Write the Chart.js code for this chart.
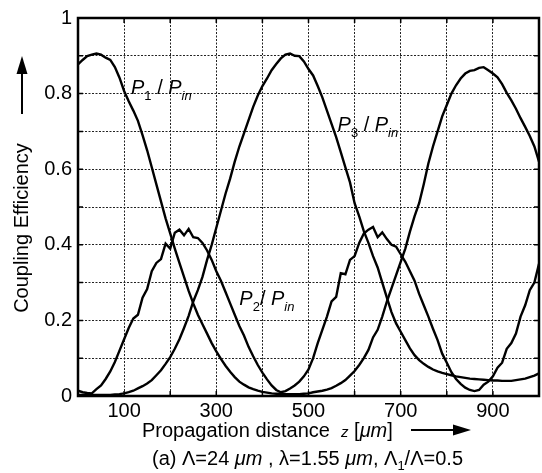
<!DOCTYPE html>
<html>
<head>
<meta charset="UTF-8">
<title>Coupling Efficiency</title>
<script src="https://cdn.jsdelivr.net/npm/chart.js"></script>
<style>
  body { margin: 0; background: #fff; }
  #wrap { position: relative; width: 542px; height: 473px; }
</style>
</head>
<body>
<div id="wrap"><canvas id="couplingChart"></canvas></div>
<script>
// propagation distance z [um]
const zPos = [0, 10, 20, 30, 40, 50, 60, 70, 80, 90,
  100, 110, 120, 130, 140, 150, 160, 170, 180, 190,
  200, 210, 220, 230, 240, 250, 260, 270, 280, 290,
  300, 310, 320, 330, 340, 350, 360, 370, 380, 390,
  400, 410, 420, 430, 440, 450, 460, 470, 480, 490,
  500, 510, 520, 530, 540, 550, 560, 570, 580, 590,
  600, 610, 620, 630, 640, 650, 660, 670, 680, 690,
  700, 710, 720, 730, 740, 750, 760, 770, 780, 790,
  800, 810, 820, 830, 840, 850, 860, 870, 880, 890,
  900, 910, 920, 930, 940, 950, 960, 970, 980, 990, 1000];

// P1 / Pin
const p1 = [0.877, 0.889, 0.899, 0.903, 0.906, 0.903, 0.895, 0.889, 0.870, 0.842,
  0.807, 0.780, 0.755, 0.728, 0.690, 0.650, 0.605, 0.560, 0.515, 0.470,
  0.430, 0.390, 0.352, 0.315, 0.278, 0.245, 0.215, 0.190, 0.165, 0.140,
  0.118, 0.098, 0.080, 0.064, 0.050, 0.038, 0.030, 0.023, 0.018, 0.014,
  0.011, 0.009, 0.007, 0.006, 0.006, 0.005, 0.005, 0.005, 0.005, 0.006,
  0.007, 0.010, 0.012, 0.014, 0.017, 0.021, 0.027, 0.034, 0.042, 0.054,
  0.066, 0.082, 0.100, 0.122, 0.155, 0.175, 0.210, 0.250, 0.285, 0.320,
  0.355, 0.390, 0.435, 0.475, 0.510, 0.560, 0.615, 0.660, 0.700, 0.740,
  0.770, 0.800, 0.822, 0.840, 0.853, 0.860, 0.862, 0.868, 0.870, 0.862,
  0.853, 0.843, 0.825, 0.802, 0.782, 0.760, 0.735, 0.712, 0.688, 0.660, 0.620];

// P2 / Pin
const p2 = [0.014, 0.010, 0.008, 0.007, 0.018, 0.028, 0.045, 0.065, 0.090, 0.120,
  0.150, 0.180, 0.205, 0.215, 0.260, 0.283, 0.330, 0.352, 0.362, 0.403,
  0.390, 0.432, 0.440, 0.425, 0.442, 0.420, 0.418, 0.405, 0.385, 0.360,
  0.330, 0.305, 0.275, 0.245, 0.215, 0.185, 0.160, 0.130, 0.105, 0.082,
  0.062, 0.044, 0.028, 0.016, 0.010, 0.013, 0.020, 0.028, 0.038, 0.052,
  0.070, 0.100, 0.140, 0.175, 0.210, 0.250, 0.262, 0.325, 0.322, 0.360,
  0.370, 0.405, 0.430, 0.440, 0.447, 0.420, 0.433, 0.415, 0.400, 0.395,
  0.375, 0.355, 0.330, 0.305, 0.270, 0.240, 0.210, 0.178, 0.148, 0.112,
  0.088, 0.063, 0.045, 0.032, 0.022, 0.016, 0.013, 0.016, 0.030, 0.038,
  0.052, 0.075, 0.088, 0.125, 0.140, 0.165, 0.210, 0.240, 0.280, 0.300, 0.350];

// P3 / Pin
const p3 = [0.003, 0.003, 0.003, 0.003, 0.003, 0.003, 0.003, 0.003, 0.004, 0.005,
  0.007, 0.010, 0.014, 0.020, 0.026, 0.033, 0.042, 0.055, 0.068, 0.085,
  0.103, 0.125, 0.150, 0.180, 0.212, 0.250, 0.280, 0.315, 0.360, 0.400,
  0.445, 0.490, 0.535, 0.575, 0.620, 0.660, 0.695, 0.730, 0.765, 0.795,
  0.820, 0.840, 0.862, 0.878, 0.893, 0.903, 0.906, 0.900, 0.899, 0.885,
  0.865, 0.848, 0.820, 0.790, 0.755, 0.720, 0.685, 0.645, 0.605, 0.565,
  0.510, 0.475, 0.436, 0.405, 0.370, 0.340, 0.300, 0.260, 0.222, 0.192,
  0.170, 0.148, 0.126, 0.108, 0.095, 0.085, 0.077, 0.070, 0.065, 0.061,
  0.058, 0.055, 0.052, 0.050, 0.048, 0.046, 0.045, 0.044, 0.043, 0.042,
  0.041, 0.041, 0.040, 0.040, 0.040, 0.042, 0.044, 0.046, 0.050, 0.054, 0.060];

const xTickLabels = [100, 300, 500, 700, 900];
const yTickLabels = [0, 0.2, 0.4, 0.6, 0.8, 1];
const curveNames = ['1', '2', '3'];

const FONT = '"Liberation Sans", Arial, Helvetica, sans-serif';
const fMain = '20px ' + FONT;
const fItal = 'italic 20px ' + FONT;
const fSub = '13px ' + FONT;
const fSubI = 'italic 13px ' + FONT;

function toPoints(ys) {
  return zPos.map((z, i) => ({ x: z, y: ys[i] }));
}

function drawRuns(ctx, runs, x, y) {
  let cx = x;
  runs.forEach(r => {
    ctx.font = r.font;
    ctx.fillText(r.t, cx, y + (r.dy || 0));
    cx += ctx.measureText(r.t).width;
  });
}
function runsWidth(ctx, runs) {
  let w = 0;
  runs.forEach(r => { ctx.font = r.font; w += ctx.measureText(r.t).width; });
  return w;
}
function curveLabel(n, slash) {
  return [
    { t: 'P', font: fItal },
    { t: n, font: fSub, dy: 6 },
    { t: slash, font: fMain },
    { t: 'P', font: fItal },
    { t: 'in', font: fSubI, dy: 6 }
  ];
}

// where the curve names sit, in data units
const labelSpots = [
  { x: 115, y: 0.80, slash: ' / ' },
  { x: 350, y: 0.24, slash: '/ ' },
  { x: 563, y: 0.70, slash: ' / ' }
];

const decor = {
  id: 'decor',
  afterDatasetsDraw(chart) {
    const ctx = chart.ctx;
    const a = chart.chartArea;
    const xs = chart.scales.x, ys = chart.scales.y;
    ctx.save();
    ctx.strokeStyle = '#000';
    ctx.fillStyle = '#000';

    // inner tick marks
    ctx.lineWidth = 1.5;
    ctx.beginPath();
    xs.ticks.forEach(t => {
      const px = xs.getPixelForValue(t.value);
      ctx.moveTo(px, a.bottom); ctx.lineTo(px, a.bottom - 5);
      ctx.moveTo(px, a.top); ctx.lineTo(px, a.top + 5);
    });
    ys.ticks.forEach(t => {
      const py = ys.getPixelForValue(t.value);
      ctx.moveTo(a.left, py); ctx.lineTo(a.left + 5, py);
      ctx.moveTo(a.right, py); ctx.lineTo(a.right - 5, py);
    });
    ctx.stroke();

    // frame
    ctx.lineWidth = 2.5;
    ctx.strokeRect(a.left, a.top, a.right - a.left, a.bottom - a.top);

    // curve names
    ctx.textBaseline = 'alphabetic';
    ctx.textAlign = 'left';
    labelSpots.forEach((s, i) => {
      drawRuns(ctx, curveLabel(curveNames[i], s.slash),
        xs.getPixelForValue(s.x), ys.getPixelForValue(s.y));
    });

    // x title + arrow
    const xTitle = [
      { t: 'Propagation distance  ', font: fMain },
      { t: 'z', font: 'italic 15px ' + FONT },
      { t: ' [', font: fMain },
      { t: '\u03bcm', font: fItal },
      { t: ']', font: fMain }
    ];
    drawRuns(ctx, xTitle, 142, 437);
    ctx.lineWidth = 2;
    ctx.beginPath();
    ctx.moveTo(411, 430); ctx.lineTo(456, 430);
    ctx.stroke();
    ctx.beginPath();
    ctx.moveTo(471, 430); ctx.lineTo(453, 424.5); ctx.lineTo(453, 435.5);
    ctx.closePath(); ctx.fill();

    // caption
    const caption = [
      { t: '(a) \u039b=24 ', font: fMain },
      { t: '\u03bcm', font: fItal },
      { t: ' , \u03bb=1.55 ', font: fMain },
      { t: '\u03bcm', font: fItal },
      { t: ', \u039b', font: fMain },
      { t: '1', font: fSub, dy: 5 },
      { t: '/\u039b=0.5', font: fMain }
    ];
    const cw = runsWidth(ctx, caption);
    drawRuns(ctx, caption, 307.5 - cw / 2, 465);

    // y title + arrow
    ctx.save();
    ctx.translate(22, 228);
    ctx.rotate(-Math.PI / 2);
    ctx.font = fMain;
    ctx.textAlign = 'center';
    ctx.textBaseline = 'middle';
    ctx.fillText('Coupling Efficiency', 0, 0);
    ctx.restore();
    ctx.lineWidth = 2;
    ctx.beginPath();
    ctx.moveTo(22, 114); ctx.lineTo(22, 70);
    ctx.stroke();
    ctx.beginPath();
    ctx.moveTo(22, 56); ctx.lineTo(16.5, 74); ctx.lineTo(27.5, 74);
    ctx.closePath(); ctx.fill();

    ctx.restore();
  }
};

const lineStyle = {
  borderColor: '#000',
  borderWidth: 2.4,
  pointRadius: 0,
  tension: 0,
  fill: false
};

new Chart(document.getElementById('couplingChart'), {
  type: 'line',
  data: {
    datasets: [
      Object.assign({ label: 'P1/Pin', data: toPoints(p1) }, lineStyle),
      Object.assign({ label: 'P2/Pin', data: toPoints(p2) }, lineStyle),
      Object.assign({ label: 'P3/Pin', data: toPoints(p3) }, lineStyle)
    ]
  },
  options: {
    responsive: true,
    maintainAspectRatio: false,
    animation: false,
    layout: { padding: { top: 15, right: 1, left: 0, bottom: 0 } },
    plugins: { legend: { display: false }, tooltip: { enabled: false } },
    scales: {
      x: {
        type: 'linear',
        min: 0, max: 1000,
        border: { display: false, dash: [2, 1.5] },
        grid: { color: '#222', lineWidth: 1, drawTicks: false },
        ticks: {
          stepSize: 100, autoSkip: false, maxRotation: 0, padding: 3,
          color: '#000', font: { family: FONT, size: 20 },
          callback: v => xTickLabels.includes(v) ? String(v) : ''
        },
        afterFit: s => { s.height = 77; }
      },
      y: {
        min: 0, max: 1,
        border: { display: false, dash: [2, 1.5] },
        grid: { color: '#222', lineWidth: 1, drawTicks: false },
        ticks: {
          stepSize: 0.1, padding: 6,
          color: '#000', font: { family: FONT, size: 20 },
          callback: v => {
            const r = Math.round(v * 10) / 10;
            return yTickLabels.includes(r) ? String(r) : '';
          }
        },
        afterFit: s => { s.width = 78; }
      }
    }
  },
  plugins: [decor]
});
</script>
</body>
</html>
